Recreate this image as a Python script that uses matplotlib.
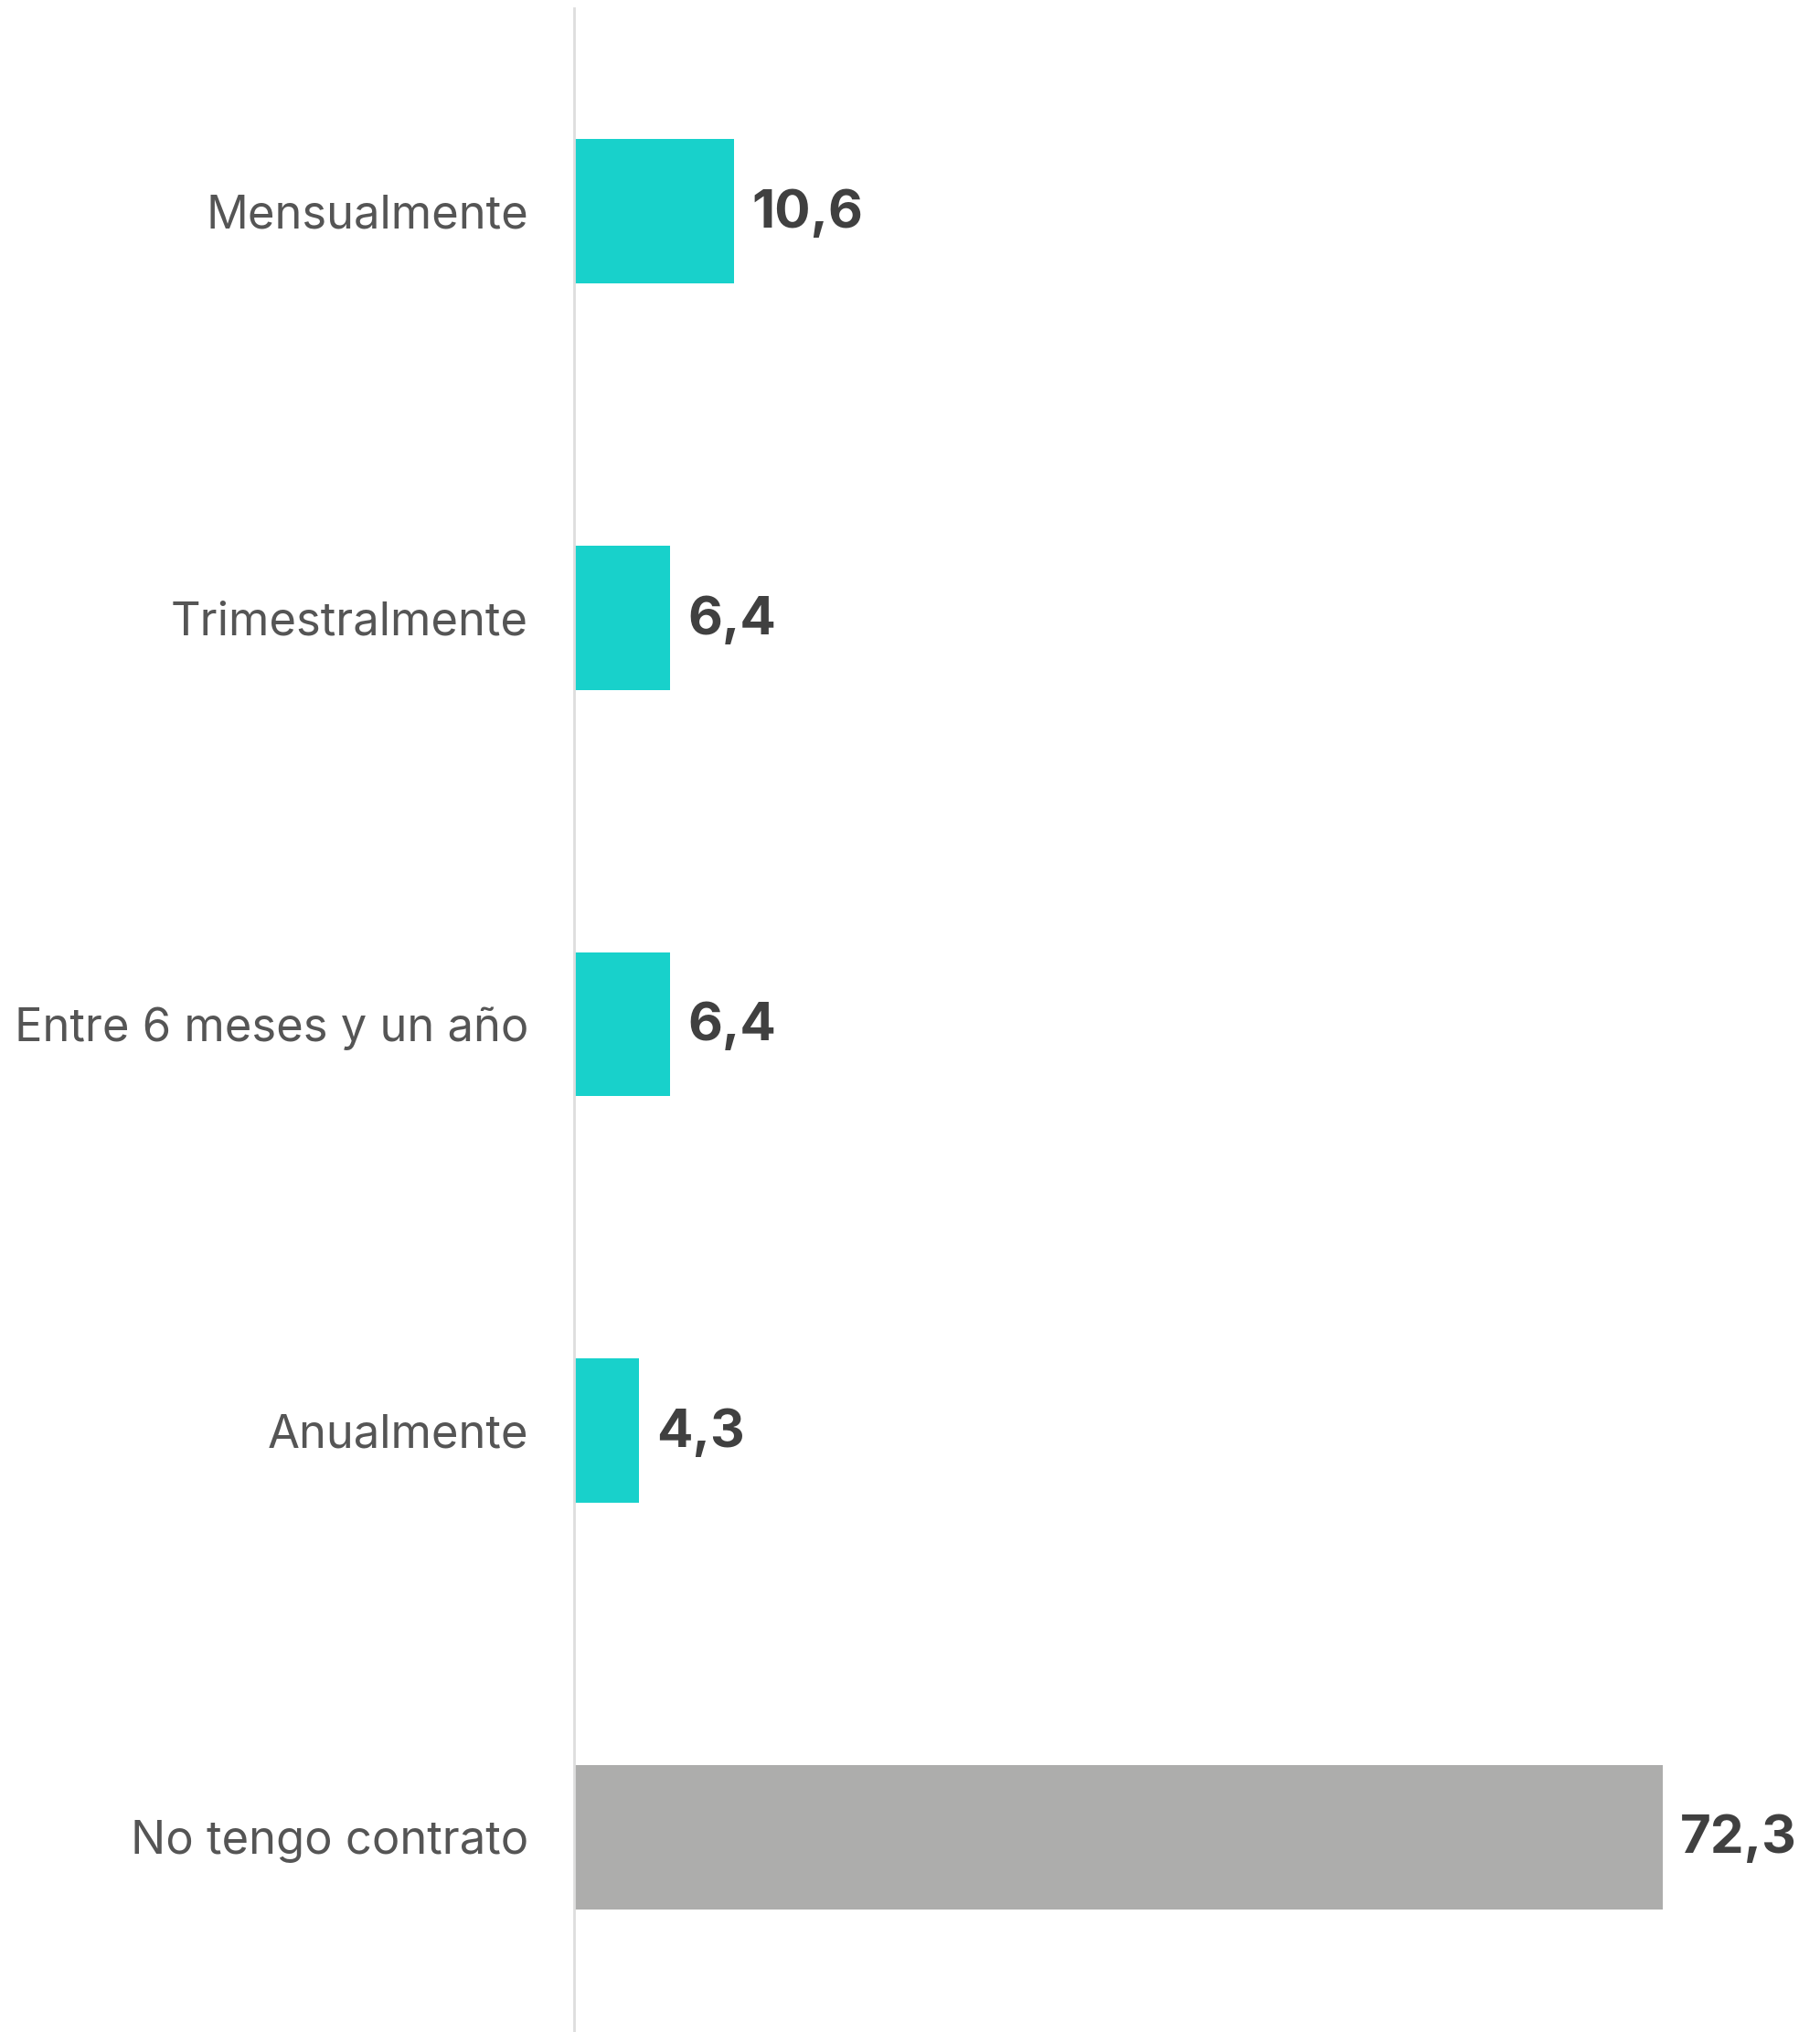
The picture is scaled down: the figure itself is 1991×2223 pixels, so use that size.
import matplotlib
matplotlib.use('Agg')
import matplotlib.pyplot as plt

# datos
categorias = ['Mensualmente', 'Trimestralmente', 'Entre 6 meses y un año',
              'Anualmente', 'No tengo contrato']
valores = [10.6, 6.4, 6.4, 4.3, 72.3]
etiquetas = ['10,6', '6,4', '6,4', '4,3', '72,3']
colores = ['#18D1CB', '#18D1CB', '#18D1CB', '#18D1CB', '#ADADAC']

plt.rcParams['font.family'] = ['Inter', 'DejaVu Sans']

fig = plt.figure(figsize=(19.91, 22.23), dpi=100)
ax = fig.add_axes([628 / 1991, 0, 1 - 628 / 1991, 1 - 9 / 2223])

pos = list(range(len(categorias)))
ax.barh(pos, valores, height=0.355, color=colores)

for p, v, t in zip(pos, valores, etiquetas):
    ax.annotate(t, (v, p), xytext=(14, -2), textcoords='offset points',
                ha='left', va='center', fontsize=42, fontweight='bold',
                color='#404040')

ax.set_xlim(0, 82.75)
ax.set_ylim(4.48, -0.5)
ax.set_yticks(pos)
ax.set_yticklabels(categorias, fontsize=36.5, color='#555555')
ax.tick_params(axis='y', length=0, pad=36)
ax.set_xticks([])

for s in ['top', 'right', 'bottom']:
    ax.spines[s].set_visible(False)
ax.spines['left'].set_color('#DDDDDD')
ax.spines['left'].set_linewidth(2)

fig.savefig('out.png', dpi=100, facecolor='white')
